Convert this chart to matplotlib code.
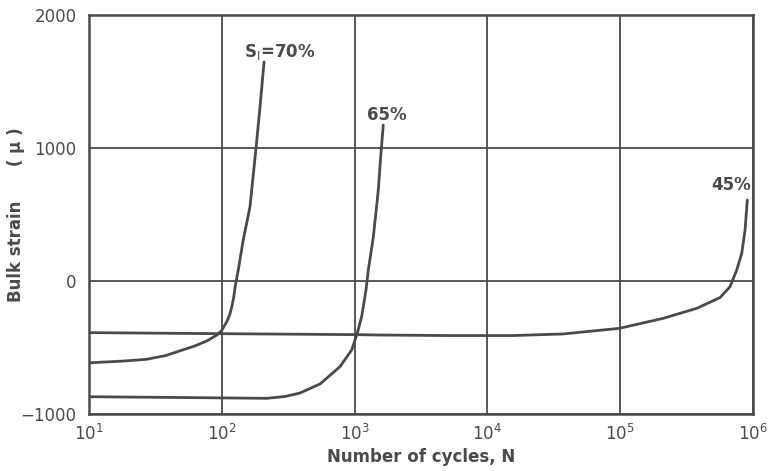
import matplotlib
matplotlib.use("Agg")
import matplotlib.pyplot as plt

# ---- data ----
n_70 = [10, 18, 27, 38, 48, 62, 77, 92, 100, 109, 115, 119, 123, 126, 133, 145, 163, 181, 194, 208]
s_70 = [-615, -602, -589, -560, -526, -490, -451, -406, -370, -306, -250, -193, -120, -43, 83, 308, 559, 1000, 1311, 1647]

n_65 = [10, 50, 218, 300, 388, 549, 776, 950, 1047, 1130, 1218, 1268, 1383, 1508, 1572, 1643]
s_65 = [-870, -876, -882, -868, -842, -774, -644, -519, -393, -268, -68, 83, 330, 684, 935, 1173]

n_45 = [10, 100, 1000, 1553, 5000, 15600, 37100, 98000, 210000, 378000, 565000, 671000, 754000, 822000, 871000, 906000]
s_45 = [-388, -396, -403, -406, -410, -410, -398, -356, -281, -205, -124, -43, 83, 208, 383, 609]

labels = ["S$_{\\rm I}$=70%", "65%", "45%"]
label_pos = [(147, 1722), (1233, 1248), (483000, 722)]

y_ticks = [-1000, 0, 1000, 2000]
x_ticks = [1e1, 1e2, 1e3, 1e4, 1e5, 1e6]
x_ticklabels = ["10$^{1}$", "10$^{2}$", "10$^{3}$", "10$^{4}$", "10$^{5}$", "10$^{6}$"]

# ---- style ----
plt.rcParams['font.family'] = ['DejaVu Sans']
plt.rcParams['mathtext.fontset'] = 'dejavusans'
plt.rcParams['mathtext.default'] = 'regular'

ink = "#4a4a4a"
fig = plt.figure(figsize=(7.78, 4.71), dpi=100)
ax = fig.add_axes([0.1144, 0.121, 0.8535, 0.847])

for n, s in [(n_70, s_70), (n_65, s_65), (n_45, s_45)]:
    ax.plot(n, s, color=ink, lw=2.0, solid_capstyle='round', solid_joinstyle='round', zorder=3)

ax.set_xscale('log')
ax.set_xlim(10, 1e6)
ax.set_ylim(-1000, 2000)
ax.set_xticks(x_ticks)
ax.set_xticklabels(x_ticklabels)
ax.minorticks_off()
ax.set_yticks(y_ticks)
ax.set_yticklabels([str(v).replace('-', '\u2212') for v in y_ticks])
ax.tick_params(length=0, labelsize=12, colors=ink)
ax.tick_params(axis='y', pad=9)
ax.tick_params(axis='x', pad=7)
ax.grid(True, color=ink, lw=1.3)
ax.set_axisbelow(True)
for sp in ax.spines.values():
    sp.set_color(ink)
    sp.set_linewidth(1.8)

for txt, (x, y) in zip(labels, label_pos):
    ax.text(x, y, txt, fontsize=12, fontweight='bold', color=ink,
            ha='left', va='center', zorder=4)

ax.set_xlabel("Number of cycles, N", fontsize=12, fontweight='bold', color=ink, labelpad=3)
fig.text(0.021, 0.545, "Bulk strain      ( μ )", fontsize=12, fontweight='bold', color=ink,
         rotation=90, ha='center', va='center')

fig.savefig("out.png", dpi=100)
